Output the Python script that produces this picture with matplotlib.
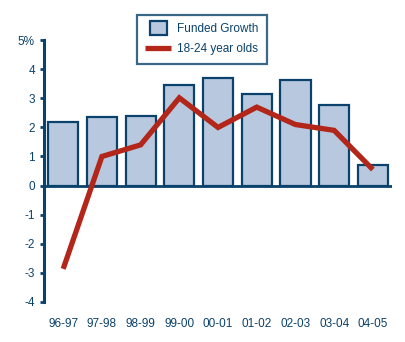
import matplotlib.pyplot as plt
from matplotlib.patches import Patch, Rectangle
from matplotlib.lines import Line2D
from matplotlib.legend_handler import HandlerPatch

years = ['96-97', '97-98', '98-99', '99-00', '00-01', '01-02', '02-03', '03-04', '04-05']
funded_growth = [2.18, 2.35, 2.39, 3.45, 3.72, 3.14, 3.62, 2.79, 0.71]
age_18_24 = [-2.87, 1.0, 1.4, 3.02, 2.0, 2.7, 2.1, 1.9, 0.55]
y_ticks = [-4, -3, -2, -1, 0, 1, 2, 3, 4, 5]
y_labels = ['-4', '-3', '-2', '-1', '0', '1', '2', '3', '4', '5%']

navy = '#0b426b'
bar_fill = '#b7c8df'
red = '#b3261a'

plt.rcParams['font.family'] = ['Liberation Sans', 'DejaVu Sans']


def small_box(legend, orig_handle, xdescent, ydescent, width, height, fontsize):
    # narrower square swatch, like the original legend
    return Rectangle((-xdescent + width * 0.18, -ydescent - 1.5),
                     width * 0.64, height + 3)


fig = plt.figure(figsize=(4.06, 3.42), dpi=100)
ax = fig.add_axes([0.108, 0.118, 0.858, 0.764])

x = range(len(years))
ax.bar(x, funded_growth, width=0.78, color=bar_fill, edgecolor=navy,
       linewidth=1.6, zorder=2)
ax.axhline(0, color=navy, linewidth=2, zorder=3)
ax.plot(x, age_18_24, color=red, linewidth=3.8, solid_capstyle='butt',
        solid_joinstyle='miter', zorder=4)

ax.set_xlim(-0.5, len(years) - 0.5)
ax.set_ylim(-4, 5)
ax.set_yticks(y_ticks)
ax.set_yticklabels(y_labels)
ax.set_xticks(list(x))
ax.set_xticklabels(years)

for side in ['top', 'right', 'bottom']:
    ax.spines[side].set_visible(False)
ax.spines['left'].set_color(navy)
ax.spines['left'].set_linewidth(2.2)

ax.tick_params(axis='y', colors=navy, length=3, width=2, labelsize=8.5, pad=3.5)
ax.tick_params(axis='x', colors=navy, length=0, labelsize=8.5, pad=12)

handles = [Patch(facecolor=bar_fill, edgecolor=navy, linewidth=1.6),
           Line2D([0], [0], color=red, linewidth=3.8, solid_capstyle='butt')]
leg = fig.legend(handles, ['Funded Growth', '18-24 year olds'],
                 loc='center', bbox_to_anchor=(0.4975, 0.885), fontsize=8.5,
                 frameon=True, fancybox=False, edgecolor=navy,
                 handlelength=2.2, handleheight=0.9, handletextpad=0.5,
                 borderpad=0.7, labelspacing=0.7,
                 handler_map={Patch: HandlerPatch(patch_func=small_box)})
leg.get_frame().set_linewidth(1.6)
for t in leg.get_texts():
    t.set_color(navy)

fig.savefig('out.png', dpi=100)
